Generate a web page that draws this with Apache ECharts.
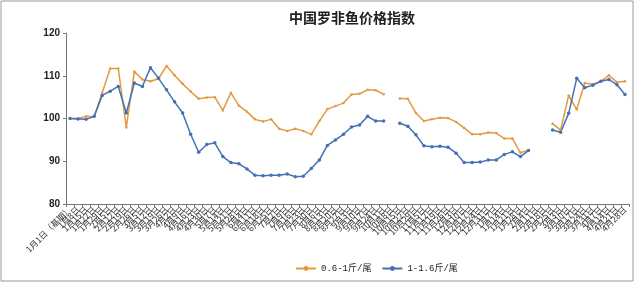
<!DOCTYPE html>
<html>
<head>
<meta charset="utf-8">
<script src="https://cdn.jsdelivr.net/npm/echarts@6/dist/echarts.min.js"></script>
<style>
  html, body { margin: 0; padding: 0; background: #fff; }
  #chart { width: 640px; height: 284px; }
</style>
</head>
<body>
<div id="chart"></div>
<script>
// 周度日期（2015-2016）
var dates = [
  "1月1日（基期）", "1月8日", "1月15日", "1月22日", "1月29日",
  "2月5日", "2月12日", "2月19日", "2月26日",
  "3月5日", "3月12日", "3月19日", "3月26日",
  "4月2日", "4月9日", "4月16日", "4月23日", "4月30日",
  "5月7日", "5月14日", "5月21日", "5月28日",
  "6月4日", "6月11日", "6月18日", "6月25日",
  "7月2日", "7月9日", "7月16日", "7月23日", "7月30日",
  "8月6日", "8月13日", "8月20日", "8月27日",
  "9月3日", "9月10日", "9月17日", "9月24日",
  "10月1日", "10月8日", "10月15日", "10月22日", "10月29日",
  "11月5日", "11月12日", "11月19日", "11月26日",
  "12月3日", "12月10日", "12月17日", "12月24日", "12月31日",
  "1月7日", "1月14日", "1月21日", "1月28日",
  "2月4日", "2月11日", "2月18日", "2月25日",
  "3月3日", "3月10日", "3月17日", "3月24日", "3月31日",
  "4月7日", "4月14日", "4月21日", "4月28日"
];

// 0.6-1斤/尾
var small = [
  100.0, 100.0, 100.5, 100.4, 106.0, 111.7, 111.7, 97.9, 111.0, 109.1,
  108.7, 109.3, 112.3, 110.1, 108.1, 106.3, 104.6, 104.9, 105.0, 101.9,
  106.0, 103.0, 101.6, 99.8, 99.3, 99.8, 97.6, 97.1, 97.6, 97.1,
  96.3, 99.4, 102.2, 102.9, 103.6, 105.6, 105.8, 106.7, 106.6, 105.7,
  null, 104.7, 104.6, 101.3, 99.4, 99.8, 100.2, 100.1, 99.2, 97.8,
  96.3, 96.3, 96.7, 96.6, 95.3, 95.3, 92.0, 92.6, null, null,
  98.8, 97.3, 105.4, 102.1, 108.3, 108.0, 108.7, 110.1, 108.5, 108.7
];

// 1-1.6斤/尾
var large = [
  100.0, 99.9, 99.8, 100.5, 105.4, 106.4, 107.5, 101.3, 108.3, 107.5,
  111.9, 109.4, 106.7, 103.9, 101.3, 96.3, 92.1, 93.9, 94.3, 91.1,
  89.7, 89.4, 88.2, 86.7, 86.6, 86.7, 86.7, 87.0, 86.4, 86.5,
  88.3, 90.3, 93.7, 95.0, 96.3, 98.0, 98.5, 100.5, 99.4, 99.4,
  null, 98.9, 98.2, 96.2, 93.6, 93.4, 93.5, 93.3, 91.9, 89.7,
  89.7, 89.8, 90.3, 90.3, 91.6, 92.2, 91.1, 92.5, null, null,
  97.3, 96.8, 101.2, 109.4, 107.2, 107.8, 108.7, 109.1, 107.9, 105.6
];

var yTicks = [80, 90, 100, 110, 120];

var myChart = echarts.init(document.getElementById("chart"));
myChart.setOption({
  animation: false,
  backgroundColor: "#fff",
  title: {
    text: "中国罗非鱼价格指数",
    left: 347,
    top: 6,
    textAlign: "center",
    textStyle: {
      fontFamily: "Noto Sans CJK SC",
      fontSize: 14,
      fontWeight: "bold",
      color: "#222",
    },
  },
  graphic: [
    {
      type: "rect",
      shape: { x: 1, y: 1, width: 632, height: 280 },
      style: { fill: null, stroke: "#9a9a9a", lineWidth: 1 },
      silent: true,
    },
  ],
  legend: {
    bottom: 6,
    left: 290,
    itemWidth: 20,
    itemHeight: 6,
    itemGap: 10,
    textStyle: {
      fontFamily: "Liberation Mono, Noto Sans CJK SC",
      fontSize: 9,
      color: "#222",
    },
    data: ["0.6-1斤/尾", "1-1.6斤/尾"],
  },
  // 布局
  grid: {
    left: 66,
    right: 11,
    top: 33,
    bottom: 80,
  },
  xAxis: {
    type: "category",
    boundaryGap: true,
    data: dates,
    axisLine: { lineStyle: { color: "#777" } },
    axisTick: { show: true, alignWithLabel: false, length: 3, lineStyle: { color: "#777" } },
    axisLabel: {
      interval: 0,
      rotate: 45,
      fontSize: 8.5,
      margin: 4,
      color: "#333",
      fontFamily: "Noto Sans CJK SC",
    },
  },
  yAxis: {
    type: "value",
    min: 80,
    max: 120,
    interval: 10,
    splitLine: { show: false },
    axisLine: { show: true, lineStyle: { color: "#777" } },
    axisTick: { show: true, length: 3, lineStyle: { color: "#777" } },
    axisLabel: {
      fontSize: 10,
      fontWeight: "bold",
      color: "#222",
      margin: 6,
      fontFamily: "Liberation Sans",
      formatter: function (v) {
        return yTicks.indexOf(v) >= 0 ? String(v) : "";
      },
    },
  },
  series: [
    {
      name: "0.6-1斤/尾",
      type: "line",
      data: small,
      connectNulls: false,
      symbol: "circle",
      symbolSize: 2.5,
      itemStyle: { color: "#E39A3E" },
      lineStyle: { color: "#E39A3E", width: 1.5 },
    },
    {
      name: "1-1.6斤/尾",
      type: "line",
      data: large,
      connectNulls: false,
      symbol: "circle",
      symbolSize: 3.5,
      itemStyle: { color: "#4470B6" },
      lineStyle: { color: "#4470B6", width: 1.5 },
    },
  ],
});
</script>
</body>
</html>
